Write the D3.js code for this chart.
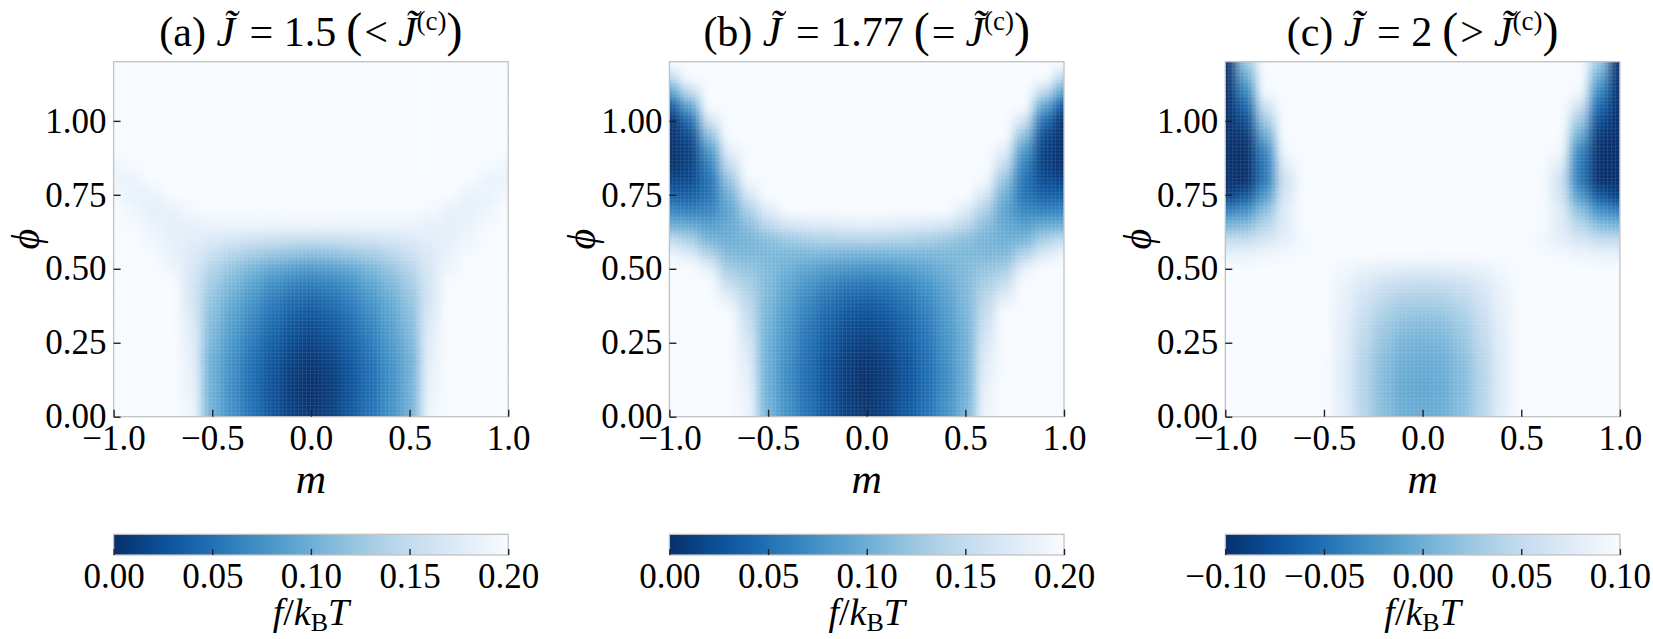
<!DOCTYPE html>
<html>
<head>
<meta charset="utf-8">
<script src="https://cdn.jsdelivr.net/npm/d3@7"></script>
<style>
  body { margin: 0; background: #fff; }
  text { font-family: "Liberation Serif", "Times New Roman", serif; fill: #000; }
</style>
</head>
<body>
<svg id="chart" width="1653" height="639"></svg>
<script>
// grid of the free-energy maps (columns: m, rows: phi)
const mValues = [-1.0, -0.9, -0.8, -0.7, -0.6, -0.5, -0.4, -0.3, -0.2, -0.1, 0.0, 0.1, 0.2, 0.3, 0.4, 0.5, 0.6, 0.7, 0.8, 0.9, 1.0];
const phiValues = [0.00, 0.05, 0.10, 0.15, 0.20, 0.25, 0.30, 0.35, 0.40, 0.45, 0.50, 0.55, 0.60, 0.65, 0.70, 0.75, 0.80, 0.85, 0.90, 0.95, 1.00, 1.05, 1.10, 1.15, 1.20];

// (a) J = 1.5, f/kBT, row i <-> phiValues[i]
const freeA = [
  [.33,.32,.30,.26,.19,.10,.075,.05,.03,.012,.005,.012,.03,.05,.075,.10,.19,.26,.30,.32,.33],
  [.33,.32,.30,.26,.19,.10,.073,.048,.028,.01,.002,.01,.028,.048,.073,.10,.19,.26,.30,.32,.33],
  [.32,.31,.29,.25,.185,.10,.072,.046,.026,.008,0,.008,.026,.046,.072,.10,.185,.25,.29,.31,.32],
  [.31,.30,.28,.25,.185,.10,.073,.047,.027,.01,.002,.01,.027,.047,.073,.10,.185,.25,.28,.30,.31],
  [.30,.29,.27,.245,.18,.10,.075,.05,.03,.014,.006,.014,.03,.05,.075,.10,.18,.245,.27,.29,.30],
  [.29,.28,.26,.24,.18,.105,.08,.055,.035,.02,.012,.02,.035,.055,.08,.105,.18,.24,.26,.28,.29],
  [.28,.27,.25,.235,.175,.11,.085,.062,.042,.028,.02,.028,.042,.062,.085,.11,.175,.235,.25,.27,.28],
  [.27,.26,.245,.225,.17,.115,.09,.07,.05,.037,.03,.037,.05,.07,.09,.115,.17,.225,.245,.26,.27],
  [.26,.25,.235,.21,.165,.12,.098,.078,.06,.048,.042,.048,.06,.078,.098,.12,.165,.21,.235,.25,.26],
  [.25,.235,.22,.20,.165,.128,.108,.09,.073,.063,.058,.063,.073,.09,.108,.128,.165,.20,.22,.235,.25],
  [.235,.22,.205,.19,.168,.138,.12,.105,.092,.084,.08,.084,.092,.105,.12,.138,.168,.19,.205,.22,.235],
  [.225,.21,.198,.185,.172,.155,.14,.13,.123,.117,.115,.117,.123,.13,.14,.155,.172,.185,.198,.21,.225],
  [.215,.203,.192,.183,.178,.172,.165,.16,.156,.153,.152,.153,.156,.16,.165,.172,.178,.183,.192,.203,.215],
  [.208,.197,.186,.182,.183,.188,.19,.19,.19,.19,.19,.19,.19,.19,.19,.188,.183,.182,.186,.197,.208],
  [.20,.19,.183,.184,.196,.208,.215,.22,.222,.224,.225,.224,.222,.22,.215,.208,.196,.184,.183,.19,.20],
  [.193,.186,.185,.20,.22,.233,.243,.25,.255,.26,.26,.26,.255,.25,.243,.233,.22,.20,.185,.186,.193],
  [.188,.187,.20,.225,.245,.26,.27,.28,.29,.30,.30,.30,.29,.28,.27,.26,.245,.225,.20,.187,.188],
  [.19,.198,.225,.255,.275,.29,.30,.31,.32,.33,.34,.33,.32,.31,.30,.29,.275,.255,.225,.198,.19],
  [.20,.22,.255,.285,.31,.33,.34,.35,.36,.37,.38,.37,.36,.35,.34,.33,.31,.285,.255,.22,.20],
  [.22,.25,.29,.32,.35,.37,.38,.39,.40,.41,.42,.41,.40,.39,.38,.37,.35,.32,.29,.25,.22],
  [.25,.29,.33,.36,.39,.41,.42,.43,.44,.45,.46,.45,.44,.43,.42,.41,.39,.36,.33,.29,.25],
  [.29,.33,.37,.40,.43,.45,.46,.47,.48,.49,.50,.49,.48,.47,.46,.45,.43,.40,.37,.33,.29],
  [.33,.37,.41,.44,.47,.49,.50,.51,.52,.53,.54,.53,.52,.51,.50,.49,.47,.44,.41,.37,.33],
  [.37,.41,.45,.48,.51,.53,.54,.55,.56,.57,.58,.57,.56,.55,.54,.53,.51,.48,.45,.41,.37],
  [.41,.45,.49,.52,.55,.57,.58,.59,.60,.61,.62,.61,.60,.59,.58,.57,.55,.52,.49,.45,.41]
];

// (b) J = 1.77
const freeB = [
  [.33,.32,.30,.26,.19,.105,.075,.05,.03,.012,.004,.012,.03,.05,.075,.105,.19,.26,.30,.32,.33],
  [.33,.32,.30,.26,.188,.103,.073,.048,.028,.01,.002,.01,.028,.048,.073,.103,.188,.26,.30,.32,.33],
  [.32,.31,.29,.255,.185,.10,.07,.045,.025,.008,0,.008,.025,.045,.07,.10,.185,.255,.29,.31,.32],
  [.31,.30,.28,.25,.18,.10,.07,.045,.025,.008,0,.008,.025,.045,.07,.10,.18,.25,.28,.30,.31],
  [.30,.29,.27,.24,.175,.10,.072,.047,.027,.011,.004,.011,.027,.047,.072,.10,.175,.24,.27,.29,.30],
  [.29,.28,.26,.23,.168,.10,.075,.05,.031,.016,.009,.016,.031,.05,.075,.10,.168,.23,.26,.28,.29],
  [.28,.27,.25,.22,.16,.102,.078,.054,.036,.022,.016,.022,.036,.054,.078,.102,.16,.22,.25,.27,.28],
  [.27,.26,.245,.20,.152,.105,.082,.06,.042,.03,.025,.03,.042,.06,.082,.105,.152,.20,.245,.26,.27],
  [.26,.25,.235,.18,.143,.108,.087,.067,.052,.041,.037,.041,.052,.067,.087,.108,.143,.18,.235,.25,.26],
  [.255,.245,.22,.155,.132,.11,.093,.077,.064,.056,.053,.056,.064,.077,.093,.11,.132,.155,.22,.245,.255],
  [.24,.215,.185,.13,.12,.11,.10,.09,.082,.077,.075,.077,.082,.09,.10,.11,.12,.13,.185,.215,.24],
  [.19,.175,.14,.11,.108,.108,.108,.107,.106,.104,.103,.104,.106,.107,.108,.108,.108,.11,.14,.175,.19],
  [.15,.135,.105,.10,.105,.115,.125,.132,.136,.139,.14,.139,.136,.132,.125,.115,.105,.10,.105,.135,.15],
  [.10,.095,.085,.095,.115,.145,.165,.172,.174,.178,.18,.178,.174,.172,.165,.145,.115,.095,.085,.095,.10],
  [.065,.06,.065,.09,.135,.175,.2,.21,.214,.218,.22,.218,.214,.21,.2,.175,.135,.09,.065,.06,.065],
  [.035,.035,.05,.10,.165,.215,.24,.25,.255,.26,.26,.26,.255,.25,.24,.215,.165,.10,.05,.035,.035],
  [.015,.02,.05,.12,.195,.255,.275,.285,.29,.30,.30,.30,.29,.285,.275,.255,.195,.12,.05,.02,.015],
  [0,.012,.06,.15,.225,.29,.31,.32,.33,.34,.34,.34,.33,.32,.31,.29,.225,.15,.06,.012,0],
  [-.01,.012,.08,.18,.26,.325,.35,.36,.37,.38,.38,.38,.37,.36,.35,.325,.26,.18,.08,.012,-.01],
  [-.01,.02,.115,.21,.30,.36,.39,.40,.41,.42,.42,.42,.41,.40,.39,.36,.30,.21,.115,.02,-.01],
  [0,.045,.16,.25,.34,.40,.43,.44,.45,.46,.46,.46,.45,.44,.43,.40,.34,.25,.16,.045,0],
  [.03,.09,.21,.29,.38,.43,.46,.48,.49,.50,.50,.50,.49,.48,.46,.43,.38,.29,.21,.09,.03],
  [.09,.15,.26,.34,.42,.47,.50,.52,.53,.54,.54,.54,.53,.52,.50,.47,.42,.34,.26,.15,.09],
  [.15,.21,.31,.38,.46,.51,.54,.56,.57,.58,.58,.58,.57,.56,.54,.51,.46,.38,.31,.21,.15],
  [.21,.26,.35,.42,.50,.55,.58,.60,.61,.62,.62,.62,.61,.60,.58,.55,.50,.42,.35,.26,.21]
];

// (c) J = 2
const freeC = [
  [.21,.20,.19,.17,.145,.115,.08,.042,.015,0,-.003,0,.015,.042,.08,.115,.145,.17,.19,.20,.21],
  [.205,.198,.188,.168,.143,.113,.078,.04,.013,-.002,-.005,-.002,.013,.04,.078,.113,.143,.168,.188,.198,.205],
  [.20,.195,.185,.165,.14,.112,.077,.04,.012,-.003,-.006,-.003,.012,.04,.077,.112,.14,.165,.185,.195,.20],
  [.195,.19,.18,.16,.138,.11,.077,.04,.013,-.002,-.005,-.002,.013,.04,.077,.11,.138,.16,.18,.19,.195],
  [.188,.182,.172,.155,.135,.108,.077,.042,.015,.001,-.002,.001,.015,.042,.077,.108,.135,.155,.172,.182,.188],
  [.178,.172,.162,.148,.13,.107,.078,.045,.02,.006,.003,.006,.02,.045,.078,.107,.13,.148,.162,.172,.178],
  [.164,.158,.15,.14,.125,.106,.08,.05,.026,.013,.01,.013,.026,.05,.08,.106,.125,.14,.15,.158,.164],
  [.146,.142,.137,.13,.12,.105,.082,.055,.034,.023,.02,.023,.034,.055,.082,.105,.12,.13,.137,.142,.146],
  [.126,.124,.122,.12,.115,.104,.085,.062,.045,.035,.033,.035,.045,.062,.085,.104,.115,.12,.122,.124,.126],
  [.11,.11,.11,.11,.11,.103,.088,.07,.058,.052,.05,.052,.058,.07,.088,.103,.11,.11,.11,.11,.11],
  [.10,.10,.10,.10,.105,.10,.093,.085,.079,.076,.075,.076,.079,.085,.093,.10,.105,.10,.10,.10,.10],
  [.085,.085,.09,.095,.098,.10,.102,.105,.108,.11,.11,.11,.108,.105,.102,.10,.098,.095,.09,.085,.085],
  [.05,.052,.065,.08,.095,.105,.12,.135,.143,.148,.15,.148,.143,.135,.12,.105,.095,.08,.065,.052,.05],
  [.005,.012,.04,.075,.11,.14,.16,.175,.185,.19,.19,.19,.185,.175,.16,.14,.11,.075,.04,.012,.005],
  [-.04,-.028,.015,.075,.13,.17,.195,.215,.225,.23,.23,.23,.225,.215,.195,.17,.13,.075,.015,-.028,-.04],
  [-.09,-.072,-.02,.065,.15,.20,.23,.25,.265,.27,.27,.27,.265,.25,.23,.20,.15,.065,-.02,-.072,-.09],
  [-.12,-.1,-.045,.06,.17,.23,.27,.29,.30,.31,.31,.31,.30,.29,.27,.23,.17,.06,-.045,-.1,-.12],
  [-.13,-.11,-.045,.075,.19,.26,.30,.33,.34,.35,.35,.35,.34,.33,.30,.26,.19,.075,-.045,-.11,-.13],
  [-.135,-.105,-.035,.095,.21,.29,.34,.37,.38,.39,.39,.39,.38,.37,.34,.29,.21,.095,-.035,-.105,-.135],
  [-.14,-.095,-.005,.12,.23,.32,.38,.41,.42,.43,.43,.43,.42,.41,.38,.32,.23,.12,-.005,-.095,-.14],
  [-.14,-.08,.025,.14,.25,.35,.42,.45,.46,.47,.47,.47,.46,.45,.42,.35,.25,.14,.025,-.08,-.14],
  [-.14,-.06,.06,.16,.27,.38,.46,.49,.50,.51,.51,.51,.50,.49,.46,.38,.27,.16,.06,-.06,-.14],
  [-.14,-.035,.095,.18,.29,.41,.50,.53,.54,.55,.55,.55,.54,.53,.50,.41,.29,.18,.095,-.035,-.14],
  [-.135,-.005,.125,.20,.31,.44,.54,.57,.58,.59,.59,.59,.58,.57,.54,.44,.31,.20,.125,-.005,-.135],
  [-.13,.025,.15,.22,.33,.47,.58,.61,.62,.63,.63,.63,.62,.61,.58,.47,.33,.22,.15,.025,-.13]
];

const panelLabels = ['(a)', '(b)', '(c)'];
const panelJ = ['1.5', '1.77', '2'];
const panelRelations = ['<', '=', '>'];
const colorDomains = [[0, 0.2], [0, 0.2], [-0.1, 0.1]];
const mTicks = [-1.0, -0.5, 0.0, 0.5, 1.0];
const phiTicks = [0.00, 0.25, 0.50, 0.75, 1.00];
const cbarTicks = [
  [0.00, 0.05, 0.10, 0.15, 0.20],
  [0.00, 0.05, 0.10, 0.15, 0.20],
  [-0.10, -0.05, 0.00, 0.05, 0.10]
];

const panels = [freeA, freeB, freeC].map((grid, i) => ({
  grid: grid,
  label: panelLabels[i],
  J: panelJ[i],
  rel: panelRelations[i],
  domain: colorDomains[i],
  ticks: cbarTicks[i]
}));

// layout
const ui = {
  lefts: [113.6, 669.4, 1225.3],
  top: 61.7,
  width: 394.6,
  height: 355,
  cbarTop: 534.3,
  cbarHeight: 20.7,
  frameColor: '#c2c2c2',
  tickColor: '#222',
  tickFont: 35
};

const svg = d3.select('#chart');
const defs = svg.append('defs');

const x = d3.scaleLinear().domain([-1, 1]).range([0, ui.width]);
const y = d3.scaleLinear().domain([0, 1.2]).range([ui.height, 0]);

// smoothing of the coarse cells + clip to the axes box
defs.append('filter')
  .attr('id', 'smooth')
  .attr('filterUnits', 'userSpaceOnUse')
  .attr('x', -60).attr('y', -60)
  .attr('width', ui.width + 120).attr('height', ui.height + 120)
  .attr('color-interpolation-filters', 'sRGB')
  .append('feGaussianBlur')
  .attr('stdDeviation', '6 5.5');

defs.append('clipPath')
  .attr('id', 'plotClip')
  .append('rect')
  .attr('width', ui.width)
  .attr('height', ui.height);

// faint pcolormesh seams
const seamW = ui.width / 100, seamH = ui.height / 100;
const seam = defs.append('pattern')
  .attr('id', 'seams')
  .attr('patternUnits', 'userSpaceOnUse')
  .attr('width', seamW)
  .attr('height', seamH);
seam.append('path')
  .attr('d', `M${seamW},0V${seamH}M0,${seamH}H${seamW}`)
  .attr('stroke', '#fff')
  .attr('stroke-opacity', 0.22)
  .attr('stroke-width', 0.7);

const dm = mValues[1] - mValues[0];
const dphi = phiValues[1] - phiValues[0];
const pad = 40;

function buildCells(grid) {
  const cells = [];
  grid.forEach((row, i) => {
    row.forEach((v, j) => {
      let x0 = x(mValues[j] - dm / 2), x1 = x(mValues[j] + dm / 2);
      let y0 = y(phiValues[i] + dphi / 2), y1 = y(phiValues[i] - dphi / 2);
      // stretch the outer ring so the blur does not fade at the frame
      if (j === 0) x0 -= pad;
      if (j === row.length - 1) x1 += pad;
      if (i === 0) y1 += pad;
      if (i === grid.length - 1) y0 -= pad;
      cells.push({ x: x0, y: y0, w: x1 - x0, h: y1 - y0, v: v });
    });
  });
  return cells;
}

panels.forEach((p, k) => {
  const left = ui.lefts[k];
  const color = d3.scaleSequential(t => d3.interpolateBlues(1 - t))
    .domain(p.domain)
    .clamp(true);

  const g = svg.append('g').attr('transform', `translate(${left},${ui.top})`);

  const clipped = g.append('g').attr('clip-path', 'url(#plotClip)');
  clipped.append('rect').attr('width', ui.width).attr('height', ui.height).attr('fill', '#f7fbff');
  clipped.append('g')
    .attr('filter', 'url(#smooth)')
    .selectAll('rect')
    .data(buildCells(p.grid))
    .enter()
    .append('rect')
    .attr('x', d => d.x)
    .attr('y', d => d.y)
    .attr('width', d => d.w + 0.5)
    .attr('height', d => d.h + 0.5)
    .attr('fill', d => color(d.v));
  clipped.append('rect').attr('width', ui.width).attr('height', ui.height).attr('fill', 'url(#seams)');

  // frame
  g.append('rect')
    .attr('width', ui.width).attr('height', ui.height)
    .attr('fill', 'none')
    .attr('stroke', ui.frameColor)
    .attr('stroke-width', 1.3);

  // axes, ticks pointing inwards
  const xAxis = g.append('g')
    .attr('transform', `translate(0,${ui.height})`)
    .call(d3.axisBottom(x).tickValues(mTicks).tickSize(-7).tickPadding(8).tickFormat(d3.format('.1f')));
  const yAxis = g.append('g')
    .call(d3.axisLeft(y).tickValues(phiTicks).tickSize(-7).tickPadding(7).tickFormat(d3.format('.2f')));
  [xAxis, yAxis].forEach(a => {
    a.select('.domain').remove();
    a.selectAll('line').attr('stroke', ui.tickColor).attr('stroke-width', 1.4);
    a.selectAll('text').attr('font-size', ui.tickFont).attr('font-family', '"Liberation Serif", serif').attr('fill', '#000');
  });

  // axis labels
  g.append('text')
    .attr('x', ui.width / 2).attr('y', 431)
    .attr('text-anchor', 'middle')
    .attr('font-size', 42)
    .attr('font-style', 'italic')
    .text('m');
  g.append('text')
    .attr('transform', `translate(-88,${ui.height / 2}) rotate(-90)`)
    .attr('text-anchor', 'middle')
    .attr('dominant-baseline', 'central')
    .attr('font-size', 40)
    .attr('font-style', 'italic')
    .text('\u03D5');

  // title
  const title = g.append('text')
    .attr('x', ui.width / 2).attr('y', 46 - ui.top)
    .attr('text-anchor', 'middle')
    .attr('font-size', 42);
  title.append('tspan').text(p.label + ' ');
  title.append('tspan').attr('font-style', 'italic').text('J\u0303');
  title.append('tspan').attr('dx', 4).text(' = ' + p.J);
  title.append('tspan').attr('dx', 10).attr('font-size', 48).text('(');
  title.append('tspan').attr('dx', 2).text(p.rel);
  title.append('tspan').attr('dx', 10).attr('font-style', 'italic').text('J\u0303');
  title.append('tspan').attr('font-size', 27).attr('dy', -16).text('(c)');
  title.append('tspan').attr('font-size', 48).attr('dy', 16).text(')');

  // colorbar
  const cb = svg.append('g').attr('transform', `translate(${left},${ui.cbarTop})`);
  const cx = d3.scaleLinear().domain(p.domain).range([0, ui.width]);
  const gradId = 'grad' + k;
  defs.append('linearGradient')
    .attr('id', gradId)
    .selectAll('stop')
    .data(d3.range(0, 1.0001, 0.05))
    .enter()
    .append('stop')
    .attr('offset', d => d)
    .attr('stop-color', d => color(p.domain[0] + d * (p.domain[1] - p.domain[0])));
  cb.append('rect')
    .attr('width', ui.width).attr('height', ui.cbarHeight)
    .attr('fill', `url(#${gradId})`)
    .attr('stroke', ui.frameColor)
    .attr('stroke-width', 1.3);
  const cAxis = cb.append('g')
    .attr('transform', `translate(0,${ui.cbarHeight})`)
    .call(d3.axisBottom(cx).tickValues(p.ticks).tickSize(-6).tickPadding(8).tickFormat(d3.format('.2f')));
  cAxis.select('.domain').remove();
  cAxis.selectAll('line').attr('stroke', ui.tickColor).attr('stroke-width', 1.4);
  cAxis.selectAll('text').attr('font-size', ui.tickFont).attr('font-family', '"Liberation Serif", serif').attr('fill', '#000');

  const cLabel = cb.append('text')
    .attr('x', ui.width / 2).attr('y', 625 - ui.cbarTop)
    .attr('text-anchor', 'middle')
    .attr('font-size', 38);
  cLabel.append('tspan').attr('font-style', 'italic').text('f');
  cLabel.append('tspan').text('/');
  cLabel.append('tspan').attr('font-style', 'italic').text('k');
  cLabel.append('tspan').attr('font-size', 26).attr('dy', 6).text('B');
  cLabel.append('tspan').attr('font-style', 'italic').attr('dy', -6).text('T');
});
</script>
</body>
</html>
